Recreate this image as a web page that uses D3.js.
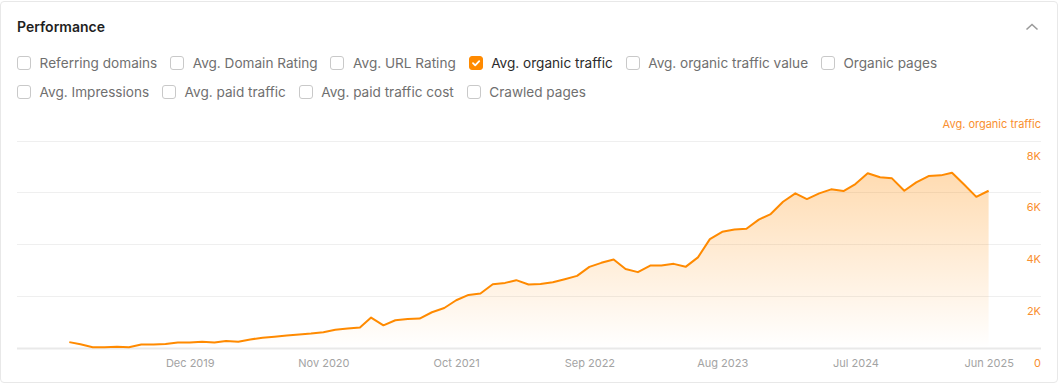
<!DOCTYPE html>
<html>
<head>
<meta charset="utf-8">
<script src="https://cdn.jsdelivr.net/npm/d3@7"></script>
<style>
  html, body { margin: 0; padding: 0; background: #fff; }
  body { width: 1058px; height: 384px; overflow: hidden; position: relative; font-family: Inter, "Noto Sans", sans-serif; }
  .card { position: absolute; left: 0; top: 1px; width: 1056px; height: 380px; border: 1px solid #e8e8e8; border-radius: 4px; }
  .title { position: absolute; left: 17px; top: 17px; font-size: 14px; font-weight: 600; color: #1f1f1f; line-height: 20px; }
  .row { position: absolute; left: 17px; display: flex; align-items: center; height: 20px; }
  .item { display: flex; align-items: center; margin-right: 12.8px; font-size: 13.6px; color: #6f6f6f; white-space: nowrap; }
  .item.on { color: #2b2b2b; }
  .cb { width: 12px; height: 12px; border: 1px solid #c9c9c9; border-radius: 3px; margin-right: 8.6px; box-sizing: content-box; position: relative; background: #fff; }
  .item.on .cb { background: #ff8a00; border-color: #ff8a00; }
  svg { position: absolute; left: 0; top: 0; }
</style>
</head>
<body>
<div class="card"></div>
<div class="title">Performance</div>
<div class="row" id="row1" style="top:53px"></div>
<div class="row" id="row2" style="top:82px"></div>
<svg id="chart" width="1058" height="384"></svg>
<script>
// ---- data ----
const row1Options = ["Referring domains", "Avg. Domain Rating", "Avg. URL Rating", "Avg. organic traffic", "Avg. organic traffic value", "Organic pages"];
const row2Options = ["Avg. Impressions", "Avg. paid traffic", "Avg. paid traffic cost", "Crawled pages"];
const checkedOption = "Avg. organic traffic";
const seriesName = "Avg. organic traffic";

const months = [
  "2019-02","2019-03","2019-04","2019-05","2019-06","2019-07","2019-08","2019-09","2019-10","2019-11","2019-12",
  "2020-01","2020-02","2020-03","2020-04","2020-05","2020-06","2020-07","2020-08","2020-09","2020-10","2020-11","2020-12",
  "2021-01","2021-02","2021-03","2021-04","2021-05","2021-06","2021-07","2021-08","2021-09","2021-10","2021-11","2021-12",
  "2022-01","2022-02","2022-03","2022-04","2022-05","2022-06","2022-07","2022-08","2022-09","2022-10","2022-11","2022-12",
  "2023-01","2023-02","2023-03","2023-04","2023-05","2023-06","2023-07","2023-08","2023-09","2023-10","2023-11","2023-12",
  "2024-01","2024-02","2024-03","2024-04","2024-05","2024-06","2024-07","2024-08","2024-09","2024-10","2024-11","2024-12",
  "2025-01","2025-02","2025-03","2025-04","2025-05","2025-06"
];
const organicTraffic = [
  215, 132, 15, 20, 35, 20, 120, 120, 145, 205,
  200, 230, 205, 260, 230, 320, 385, 425, 470, 510,
  545, 600, 690, 740, 780, 1165, 865, 1060, 1110, 1125,
  1370, 1535, 1835, 2040, 2095, 2455, 2505, 2610, 2440, 2460,
  2530, 2645, 2775, 3125, 3280, 3410, 3045, 2920, 3175, 3175,
  3240, 3125, 3490, 4195, 4480, 4570, 4595, 4950, 5165, 5640,
  5965, 5745, 5965, 6120, 6055, 6325, 6740, 6585, 6545, 6065,
  6390, 6635, 6660, 6760, 6295, 5830, 6065
];
const xTickMonths = ["2019-12","2020-11","2021-10","2022-09","2023-08","2024-07","2025-06"];
const yTickValues = [0, 2000, 4000, 6000, 8000];
const yTickLabels = ["0", "2K", "4K", "6K", "8K"];

// ---- checkboxes ----
function buildRow(id, opts) {
  const row = d3.select(id);
  const items = row.selectAll(".item").data(opts).enter().append("div")
    .attr("class", d => "item" + (d === checkedOption ? " on" : ""));
  const cb = items.append("div").attr("class", "cb");
  cb.filter(d => d === checkedOption).append("svg")
    .attr("width", 12).attr("height", 12).style("position", "absolute").style("left", "0").style("top", "0")
    .append("path").attr("d", "M3 6.2 L5.2 8.3 L9.2 4.2").attr("fill", "none")
    .attr("stroke", "#fff").attr("stroke-width", 1.8).attr("stroke-linecap", "round").attr("stroke-linejoin", "round");
  items.append("span").text(d => d);
}
buildRow("#row1", row1Options);
buildRow("#row2", row2Options);

// ---- chart ----
const svg = d3.select("#chart");
const parse = d3.timeParse("%Y-%m");
const data = months.map((m, i) => ({ date: parse(m), value: organicTraffic[i] }));

const gridLeft = 17, gridRight = 1041;
const x = d3.scaleTime().domain(d3.extent(data, d => d.date)).range([69.3, 988.6]);
const y = d3.scaleLinear().domain([0, 8000]).range([347.7, 140.7]);

// chevron
svg.append("path").attr("d", "M1026.5 29.5 L1032 24.5 L1037.5 29.5")
  .attr("fill", "none").attr("stroke", "#9a9a9a").attr("stroke-width", 1.6);

// series title
svg.append("text").attr("x", gridRight).attr("y", 124).attr("dy", "0.35em")
  .attr("text-anchor", "end").attr("font-size", 11).attr("fill", "#f98f2f")
  .attr("font-family", "Inter, sans-serif").text(seriesName);

// gridlines
svg.append("g").selectAll("line").data(yTickValues).enter().append("line")
  .attr("x1", gridLeft).attr("x2", gridRight)
  .attr("y1", d => Math.round(y(d)) + 0.5).attr("y2", d => Math.round(y(d)) + 0.5)
  .attr("stroke", d => d === 0 ? "#e9e9e9" : "#efefef")
  .attr("stroke-width", d => d === 0 ? 2 : 1);

// gradient
const defs = svg.append("defs");
const grad = defs.append("linearGradient").attr("id", "areaGrad")
  .attr("gradientUnits", "userSpaceOnUse").attr("x1", 0).attr("x2", 0)
  .attr("y1", y(8000)).attr("y2", y(0));
grad.append("stop").attr("offset", "0%").attr("stop-color", "#ff8a00").attr("stop-opacity", 0.36);
grad.append("stop").attr("offset", "100%").attr("stop-color", "#ff8a00").attr("stop-opacity", 0.0);

const area = d3.area().x(d => x(d.date)).y0(y(0)).y1(d => y(d.value));
const line = d3.line().x(d => x(d.date)).y(d => y(d.value));

svg.append("path").datum(data).attr("d", area).attr("fill", "url(#areaGrad)");
svg.append("path").datum(data).attr("d", line).attr("fill", "none")
  .attr("stroke", "#ff8a00").attr("stroke-width", 2).attr("stroke-linejoin", "round");

// y axis labels (below each gridline)
const yAxis = d3.axisRight(y).tickValues(yTickValues).tickSize(0)
  .tickFormat((d, i) => yTickLabels[i]);
const gy = svg.append("g").attr("transform", `translate(${gridRight},15)`).call(yAxis);
gy.select(".domain").remove();
gy.selectAll("text").attr("x", 0).attr("text-anchor", "end").attr("fill", "#f98f2f")
  .attr("font-size", 11).attr("font-family", "Inter, sans-serif");

// x axis labels
const xAxis = d3.axisBottom(x).tickValues(xTickMonths.map(parse)).tickSize(0)
  .tickFormat(d3.timeFormat("%b %Y"));
const gx = svg.append("g").attr("transform", `translate(0,${y(0)})`).call(xAxis);
gx.select(".domain").remove();
gx.selectAll("text").attr("y", 15.5).attr("dy", "0.35em").attr("fill", "#a3a3a3")
  .attr("font-size", 11).attr("font-family", "Inter, sans-serif");
</script>
</body>
</html>
